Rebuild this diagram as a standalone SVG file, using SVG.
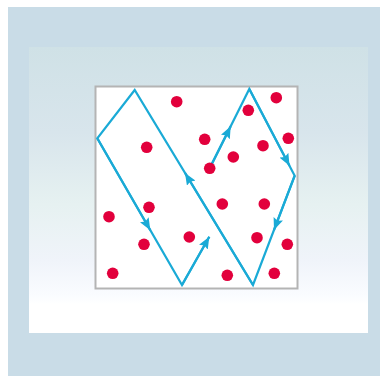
<svg xmlns="http://www.w3.org/2000/svg" width="380" height="376" viewBox="0 0 380 376">
<defs>
<linearGradient id="bg" x1="0" y1="0" x2="0" y2="1">
<stop offset="0" stop-color="#cfe1e6"/>
<stop offset="0.3" stop-color="#d8e5ec"/>
<stop offset="0.55" stop-color="#e6f1f1"/>
<stop offset="0.75" stop-color="#f0f4fa"/>
<stop offset="0.87" stop-color="#fafcff"/>
<stop offset="0.9" stop-color="#ffffff"/>
<stop offset="1" stop-color="#ffffff"/>
</linearGradient>
<marker id="arr" viewBox="0 0 12 10" refX="12" refY="5" markerWidth="12" markerHeight="10" markerUnits="userSpaceOnUse" orient="auto">
<path d="M0,0 L12,5 L0,10 L2,5 Z" fill="#1aaad6"/>
</marker>
<style>
.dot{fill:#e2003c}
.ln{stroke:#1aaad6;stroke-width:2.2;fill:none;stroke-linejoin:miter}
</style>
</defs>
<rect x="0" y="0" width="380" height="376" fill="#ffffff"/>
<rect x="8" y="7" width="372" height="369" fill="#c9dce7"/>
<rect x="29" y="47" width="339" height="286" fill="url(#bg)"/>
<rect id="box" x="95.5" y="86.5" width="202" height="202" fill="#ffffff" stroke="#b4b4b4" stroke-width="2"/>
<g id="connectors">
<polyline class="ln" points="209.7,168.3 249.3,89 294.7,175.7 253,285 134.7,90 97.3,138.3 182,285 209.3,236.7"/>
<line class="ln" x1="209.7" y1="168.3" x2="230.7" y2="126.3" marker-end="url(#arr)"/>
<line class="ln" x1="249.3" y1="89" x2="289.5" y2="165.8" marker-end="url(#arr)"/>
<line class="ln" x1="294.7" y1="175.7" x2="274" y2="230" marker-end="url(#arr)"/>
<line class="ln" x1="253" y1="285" x2="185" y2="172.9" marker-end="url(#arr)"/>
<line class="ln" x1="97.3" y1="138.3" x2="150.3" y2="230.2" marker-end="url(#arr)"/>
<line class="ln" x1="182" y1="285" x2="209.3" y2="236.7" marker-end="url(#arr)"/>
</g>
<g id="dots">
<circle class="dot" cx="176.7" cy="101.7" r="5.8"/>
<circle class="dot" cx="276.3" cy="97.7" r="5.8"/>
<circle class="dot" cx="248.3" cy="110.3" r="5.8"/>
<circle class="dot" cx="146.7" cy="147.3" r="5.8"/>
<circle class="dot" cx="204.7" cy="139.3" r="5.8"/>
<circle class="dot" cx="288.3" cy="138.3" r="5.8"/>
<circle class="dot" cx="263" cy="145.7" r="5.8"/>
<circle class="dot" cx="233.3" cy="157" r="5.8"/>
<circle class="dot" cx="209.7" cy="168.3" r="5.8"/>
<circle class="dot" cx="149" cy="207.3" r="5.8"/>
<circle class="dot" cx="109" cy="216.7" r="5.8"/>
<circle class="dot" cx="222.3" cy="204" r="5.8"/>
<circle class="dot" cx="264.3" cy="204" r="5.8"/>
<circle class="dot" cx="144" cy="244.3" r="5.8"/>
<circle class="dot" cx="189.3" cy="237" r="5.8"/>
<circle class="dot" cx="257" cy="237.7" r="5.8"/>
<circle class="dot" cx="287.3" cy="244.3" r="5.8"/>
<circle class="dot" cx="112.7" cy="273.3" r="5.8"/>
<circle class="dot" cx="227.3" cy="275.3" r="5.8"/>
<circle class="dot" cx="274.3" cy="273.3" r="5.8"/>
</g>
</svg>
